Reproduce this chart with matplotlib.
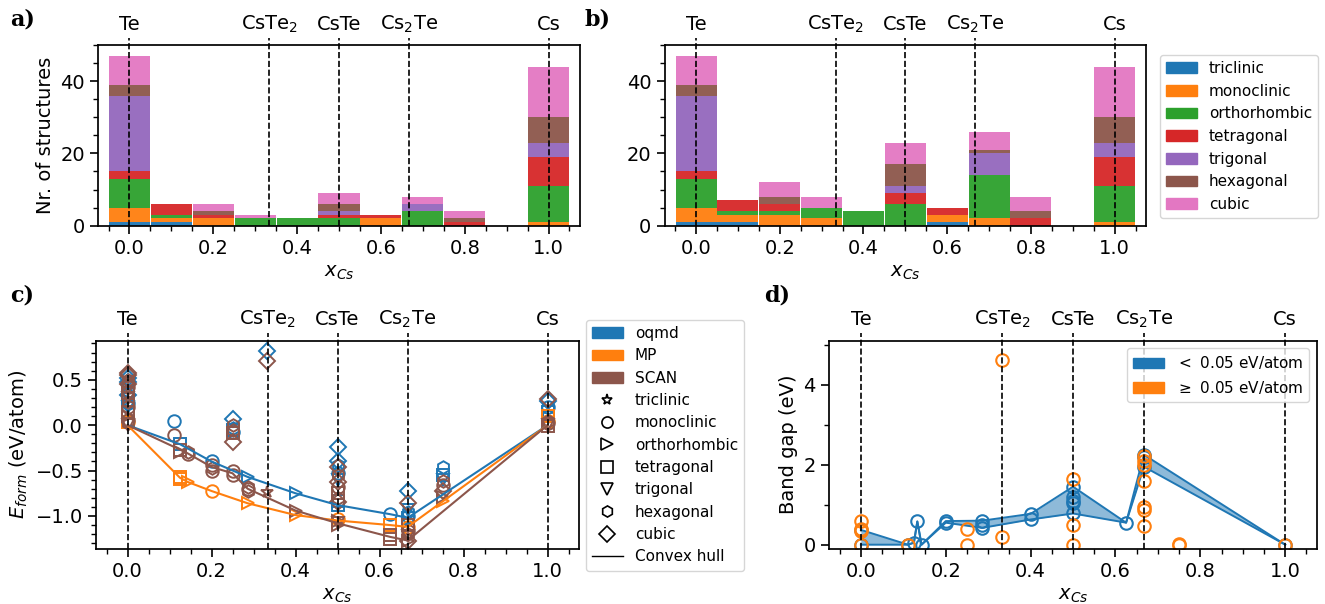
import numpy as np
import matplotlib
matplotlib.use("Agg")
import matplotlib.pyplot as plt
from matplotlib.patches import Patch
from matplotlib.lines import Line2D
from matplotlib.ticker import AutoMinorLocator, MultipleLocator

plt.rcParams['font.family'] = ['DejaVu Sans']
plt.rcParams['font.size'] = 14
plt.rcParams['axes.linewidth'] = 1.25

# --- histogram data (bins centred at 0.0 ... 1.0, width 0.1) ---
bin_centers = [0.0, 0.1, 0.2, 0.3, 0.4, 0.5, 0.6, 0.7, 0.8, 0.9, 1.0]
systems = ['triclinic', 'monoclinic', 'orthorhombic', 'tetragonal',
           'trigonal', 'hexagonal', 'cubic']

# panel a counts per crystal system
a_triclinic    = [1, 1, 0, 0, 0, 0, 0, 0, 0, 0, 0]
a_monoclinic   = [4, 1, 2, 0, 0, 0, 2, 0, 0, 0, 1]
a_orthorhombic = [8, 1, 0, 2, 2, 2, 0, 4, 0, 0, 10]
a_tetragonal   = [2, 3, 1, 0, 0, 1, 1, 0, 1, 0, 8]
a_trigonal     = [21, 0, 0, 0, 0, 1, 0, 2, 0, 0, 4]
a_hexagonal    = [3, 0, 1, 0, 0, 2, 0, 0, 1, 0, 7]
a_cubic        = [8, 0, 2, 1, 0, 3, 0, 2, 2, 0, 14]

# panel b counts per crystal system
b_triclinic    = [1, 1, 0, 0, 0, 0, 1, 0, 0, 0, 0]
b_monoclinic   = [4, 2, 3, 2, 0, 0, 2, 2, 0, 0, 1]
b_orthorhombic = [8, 1, 1, 3, 4, 6, 0, 12, 0, 0, 10]
b_tetragonal   = [2, 3, 2, 0, 0, 3, 2, 0, 2, 0, 8]
b_trigonal     = [21, 0, 0, 0, 0, 2, 0, 6, 0, 0, 4]
b_hexagonal    = [3, 0, 2, 0, 0, 6, 0, 1, 2, 0, 7]
b_cubic        = [8, 0, 4, 3, 0, 6, 0, 5, 4, 0, 14]

# --- compounds on top axis ---
compound_x = [0.0, 1/3, 0.5, 2/3, 1.0]
compound_labels = ['Te', 'CsTe$_2$', 'CsTe', 'Cs$_2$Te', 'Cs']

# --- formation energies (panel c) ---
oqmd_x = [0, 0, 0, 0, 0, 0, 0, 0, 0.111, 0.125, 0.2, 0.25, 0.25, 0.25, 0.25,
          0.286, 0.333, 0.4, 0.5, 0.5, 0.5, 0.5, 0.5, 0.5, 0.5, 0.625,
          0.667, 0.667, 0.667, 0.667, 0.667, 0.75, 0.75, 0.75,
          1, 1, 1, 1]
oqmd_e = [0.52, 0.47, 0.42, 0.36, 0.33, 0.28, 0.24, 0.20, 0.05, -0.21, -0.40,
          0.07, -0.03, -0.08, -0.05, -0.57, 0.82, -0.75, -0.24, -0.39, -0.44,
          -0.53, -0.60, -0.83, -0.88, -0.98, -0.72, -0.93, -0.96, -1.00, -1.02,
          -0.46, -0.55, -0.60, 0.27, 0.20, 0.15, 0.10]
oqmd_sys = ['D', 'D', 's', 'h', 'D', '>', 'o', 'v', 'o', 's', 'o',
            'D', 'h', 'o', 's', '>', 'D', '>', 'D', 'D', 'h',
            'o', 'v', 's', 's', 'o', 'D', 'v', 'h', 'o', 's',
            'h', 's', 'v', 'D', 'o', 's', 'h']

mp_x = [0, 0, 0.125, 0.125, 0.143, 0.2, 0.286, 0.4, 0.5, 0.625, 0.667, 0.75,
        1, 1, 1]
mp_e = [0.03, 0.04, -0.57, -0.59, -0.625, -0.725, -0.86, -0.99, -1.03, -1.10,
        -1.12, -0.83, 0.10, 0.05, 0.02]
mp_sys = ['o', 's', 's', 's', '>', 'o', '>', '>', 'o', 's', 'o', '>',
          's', 'o', 'h']

scan_x = [0, 0, 0, 0, 0, 0, 0, 0, 0, 0, 0, 0, 0, 0,
          0.111, 0.125, 0.125, 0.143, 0.143, 0.2, 0.2, 0.2,
          0.25, 0.25, 0.25, 0.25, 0.25, 0.25, 0.286, 0.286, 0.286,
          0.333, 0.333, 0.4,
          0.5, 0.5, 0.5, 0.5, 0.5, 0.5, 0.5, 0.5, 0.5, 0.5,
          0.625, 0.625, 0.667, 0.667, 0.667, 0.667, 0.667, 0.667, 0.667,
          0.75, 0.75, 0.75, 0.75, 1, 1, 1, 1, 1]
scan_e = [0.58, 0.55, 0.50, 0.45, 0.42, 0.35, 0.30, 0.25, 0.20, 0.15, 0.10,
          0.06, 0.02, 0.00,
          -0.11, -0.27, -0.30, -0.32, -0.29, -0.44, -0.50, -0.47,
          0.00, -0.09, -0.19, -0.51, -0.55, -0.05, -0.68, -0.72, -0.70,
          0.71, -0.735, -0.94,
          -0.46, -0.55, -0.63, -0.68, -0.75, -0.80, -0.85, -1.06, -1.10, -1.08,
          -1.21, -1.25, -0.86, -1.10, -1.16, -1.22, -1.27, -1.28, -1.20,
          -0.62, -0.66, -0.72, -0.79, 0.29, 0.05, 0.02, -0.01, 0.00]
scan_sys = ['D', 'D', 'h', 'D', 'o', 's', 'v', 'h', 'o', 's', '>', 'o', 'h', 'v',
            'o', 's', '>', 'o', 'h', 'o', 'o', 'h',
            'h', 's', 'D', 'o', 'o', 'h', 'h', 'h', 'o',
            'D', '*', '>',
            'D', 'h', 'D', 'o', 's', 'h', 'D', '>', '>', 'v',
            's', 's', 'D', 's', 'o', 'v', '>', 'D', 'h',
            'h', 'o', 'D', '>', 'D', 'h', 'o', 's', 'v']

# convex hulls
oqmd_hull_x = [0, 0.125, 0.2, 0.286, 0.4, 0.5, 0.625, 0.667, 1.0]
oqmd_hull_e = [0, -0.21, -0.40, -0.57, -0.75, -0.88, -0.98, -1.02, 0]
mp_hull_x = [0, 0.125, 0.143, 0.2, 0.286, 0.4, 0.5, 0.625, 0.667, 1.0]
mp_hull_e = [0, -0.58, -0.625, -0.725, -0.86, -0.99, -1.05, -1.10, -1.12, 0]
scan_hull_x = [0, 0.125, 0.143, 0.2, 0.25, 0.286, 0.4, 0.5, 0.625, 0.667, 1.0]
scan_hull_e = [0, -0.27, -0.31, -0.46, -0.53, -0.70, -0.94, -1.08, -1.23, -1.27, 0]

# --- band gaps (panel d) ---
stable_x = [0, 0, 0.111, 0.125, 0.133, 0.143, 0.2, 0.2, 0.286, 0.286, 0.286,
            0.4, 0.4, 0.5, 0.5, 0.5, 0.5, 0.5, 0.625, 0.667, 0.667, 0.667, 1.0]
stable_gap = [0.0, 0.37, 0.0, 0.05, 0.58, 0.0, 0.59, 0.55, 0.60, 0.50, 0.42,
              0.77, 0.63, 1.45, 1.20, 1.10, 1.05, 0.78, 0.55, 2.25, 2.18, 1.95, 0.0]
env_x = [0, 0.111, 0.125, 0.133, 0.143, 0.2, 0.286, 0.4, 0.5, 0.625, 0.667, 1.0]
env_min = [0.0, 0.0, 0.05, 0.58, 0.0, 0.55, 0.42, 0.63, 0.78, 0.55, 1.95, 0.0]
env_max = [0.37, 0.0, 0.05, 0.58, 0.0, 0.59, 0.60, 0.77, 1.45, 0.55, 2.25, 0.0]
unstable_x = [0, 0, 0, 0, 0.111, 0.25, 0.25, 0.333, 0.333, 0.5, 0.5, 0.5,
              0.667, 0.667, 0.667, 0.667, 0.667, 0.667, 0.667, 0.75, 0.75, 1.0]
unstable_gap = [0.58, 0.39, 0.33, 0.0, 0.0, 0.38, 0.0, 4.62, 0.2, 1.63, 0.5, 0.0,
                2.21, 2.10, 2.00, 1.60, 0.95, 0.87, 0.46, 0.02, 0.0, 0.0]

colors7 = ['C0', 'C1', 'C2', 'C3', 'C4', 'C5', 'C6']
xlims = (-0.075, 1.075)

fig = plt.figure(figsize=(13.25, 6.04), dpi=100)
ax_a = fig.add_axes([0.074, 0.6263, 0.3637, 0.2992])
ax_b = fig.add_axes([0.5016, 0.6263, 0.3633, 0.2992])
ax_c = fig.add_axes([0.0725, 0.0916, 0.3645, 0.3443])
ax_d = fig.add_axes([0.6257, 0.0916, 0.3683, 0.3443])


def style(ax, ymin_loc, text_y, line_top):
    ax.set_xlim(*xlims)
    ax.xaxis.set_major_locator(MultipleLocator(0.2))
    ax.xaxis.set_minor_locator(AutoMinorLocator(4))
    ax.yaxis.set_minor_locator(AutoMinorLocator(ymin_loc))
    ax.tick_params(which='major', length=6, width=1.2)
    ax.tick_params(which='minor', length=3.5, width=1.0)
    ax.set_xlabel('$x_{Cs}$')
    for xc, lab in zip(compound_x, compound_labels):
        ax.axvline(xc, ymin=0, ymax=line_top, color='k', ls='--', lw=1.2,
                   clip_on=False, zorder=5)
        ax.text(xc, text_y, lab, transform=ax.get_xaxis_transform(),
                ha='center', va='center', fontsize=14)


def stacked(ax, counts):
    bottom = np.zeros(len(bin_centers))
    for cnt, col, lab in zip(counts, colors7, systems):
        ax.bar(bin_centers, cnt, width=0.098, bottom=bottom, color=col,
               label=lab, edgecolor='none', alpha=0.95)
        bottom += np.array(cnt)


stacked(ax_a, [a_triclinic, a_monoclinic, a_orthorhombic, a_tetragonal,
               a_trigonal, a_hexagonal, a_cubic])
stacked(ax_b, [b_triclinic, b_monoclinic, b_orthorhombic, b_tetragonal,
               b_trigonal, b_hexagonal, b_cubic])
for ax in (ax_a, ax_b):
    ax.set_ylim(0, 50)
    ax.yaxis.set_major_locator(MultipleLocator(20))
    style(ax, 4, 1.116, 1.04)
ax_a.set_ylabel('Nr. of structures')

handles_b = [Patch(color=c, label=l) for c, l in zip(colors7, systems)]
fig.legend(handles=handles_b, loc='upper left', bbox_to_anchor=(0.8697, 0.9215),
           fontsize=11, framealpha=0.8)

# panel c
for xs, es, ms_, col in [(oqmd_x, oqmd_e, oqmd_sys, 'C0'),
                          (mp_x, mp_e, mp_sys, 'C1'),
                          (scan_x, scan_e, scan_sys, 'C5')]:
    xs = np.array(xs)
    es = np.array(es)
    ms_ = np.array(ms_)
    for m in np.unique(ms_):
        sel = ms_ == m
        size = 8 if m == 'D' else 9
        ax_c.plot(xs[sel], es[sel], ls='none', marker=m, mfc='none', mec=col,
                  ms=size, mew=1.4)
ax_c.plot(oqmd_hull_x, oqmd_hull_e, color='C0', lw=1.5)
ax_c.plot(mp_hull_x, mp_hull_e, color='C1', lw=1.5)
ax_c.plot(scan_hull_x, scan_hull_e, color='C5', lw=1.5)
ax_c.set_ylim(-1.36, 0.93)
ax_c.yaxis.set_major_locator(MultipleLocator(0.5))
style(ax_c, 5, 1.103, 1.037)
ax_c.set_ylabel('$E_{form}$ (eV/atom)')

marker_codes = ['*', 'o', '>', 's', 'v', 'h', 'D']
handles_c = [Patch(color='C0', label='oqmd'), Patch(color='C1', label='MP'),
             Patch(color='C5', label='SCAN')]
handles_c += [Line2D([], [], ls='none', marker=m, mfc='none', mec='k', ms=8,
                     mew=1.2, label=l) for m, l in zip(marker_codes, systems)]
handles_c.append(Line2D([], [], color='k', lw=1, label='Convex hull'))
fig.legend(handles=handles_c, loc='upper left', bbox_to_anchor=(0.4365, 0.4828),
           fontsize=11, framealpha=0.8, labelspacing=0.48)

# panel d
ax_d.fill_between(env_x, env_min, env_max, color='C0', alpha=0.5, lw=0)
ax_d.plot(env_x, env_min, color='C0', lw=1.4)
ax_d.plot(env_x, env_max, color='C0', lw=1.4)
ax_d.plot(stable_x, stable_gap, ls='none', marker='o', mfc='none', mec='C0',
          ms=9, mew=1.5)
ax_d.plot(unstable_x, unstable_gap, ls='none', marker='o', mfc='none', mec='C1',
          ms=9, mew=1.5)
ax_d.set_ylim(-0.1, 5.1)
ax_d.yaxis.set_major_locator(MultipleLocator(2))
style(ax_d, 2, 1.103, 1.037)
ax_d.set_ylabel('Band gap (eV)')
ax_d.legend(handles=[Patch(color='C0', label=r'$<$ 0.05 eV/atom'),
                     Patch(color='C1', label=r'$\geq$ 0.05 eV/atom')],
            loc='upper right', fontsize=11)

# panel letters
for lab, x, y in [('a)', 0.008, 0.968), ('b)', 0.441, 0.968),
                  ('c)', 0.008, 0.51), ('d)', 0.577, 0.51)]:
    fig.text(x, y, lab, family='DejaVu Serif', fontweight='bold',
             fontsize=16, ha='left', va='center')

fig.savefig('out.png', dpi=100)
plt.close(fig)
